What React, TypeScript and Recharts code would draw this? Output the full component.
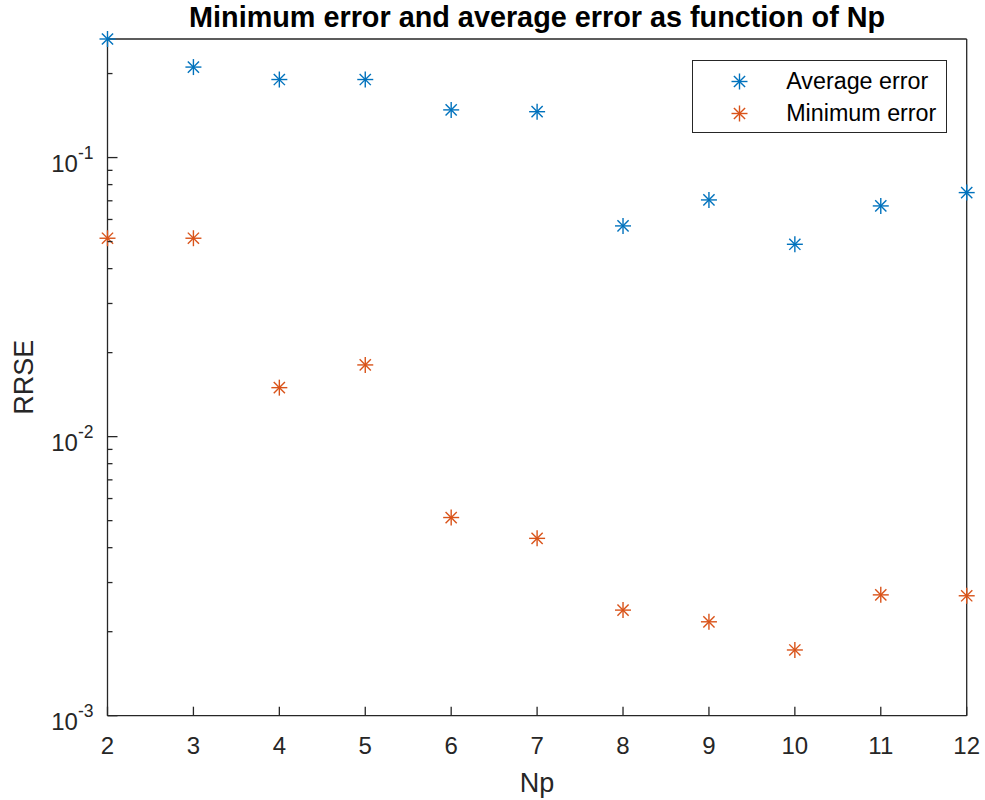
import React from 'react';
import { ScatterChart, Scatter, XAxis, YAxis, Legend } from 'recharts';

// Number of parameters Np
const npValues = [2, 3, 4, 5, 6, 7, 8, 9, 10, 11, 12];
// RRSE averaged over runs
const averageError = [0.266, 0.211, 0.1904, 0.1904, 0.1482, 0.146, 0.0569, 0.0705, 0.0489, 0.0671, 0.0749];
// Best RRSE over runs
const minimumError = [0.0514, 0.0514, 0.01498, 0.01807, 0.00513, 0.00432, 0.00239, 0.00217, 0.00172, 0.00271, 0.00269];

const xTicks = [2, 3, 4, 5, 6, 7, 8, 9, 10, 11, 12];
const majorYTicks = [0.001, 0.01, 0.1];
const majorYLabels = ['-3', '-2', '-1'];
const minorYTicks = [
  0.002, 0.003, 0.004, 0.005, 0.006, 0.007, 0.008, 0.009,
  0.02, 0.03, 0.04, 0.05, 0.06, 0.07, 0.08, 0.09,
  0.2,
];
const yDomain = [0.001, 0.266];

const seriesNames = ['Average error', 'Minimum error'];
const seriesColors = ['#0072BD', '#D95319'];

const W = 985;
const H = 800;
const LEFT = 107.5;
const RIGHT = 18.3;
const TOP = 39;
const BOTTOM = 84.3;
const AXIS = '#262626';
const FONT = '"Liberation Sans", Arial, Helvetica, sans-serif';

const avgData = npValues.map((np, i) => ({ x: np, y: averageError[i] }));
const minData = npValues.map((np, i) => ({ x: np, y: minimumError[i] }));
const yTicks = [...majorYTicks, ...minorYTicks].sort((a, b) => a - b);

const isMajor = (v: number) => majorYTicks.some((m) => Math.abs(m - v) < 1e-12);

function Asterisk({ cx, cy, color }: { cx: number; cy: number; color: string }) {
  const r = 8;
  const d = 5.6;
  return (
    <g stroke={color} strokeWidth={1.4} fill="none">
      <line x1={cx - r} y1={cy} x2={cx + r} y2={cy} />
      <line x1={cx} y1={cy - r} x2={cx} y2={cy + r} />
      <line x1={cx - d} y1={cy - d} x2={cx + d} y2={cy + d} />
      <line x1={cx - d} y1={cy + d} x2={cx + d} y2={cy - d} />
    </g>
  );
}

const makeShape = (color: string) => (props: any) => (
  <Asterisk cx={props.cx} cy={props.cy} color={color} />
);

function LeftTick(props: any) {
  const { x, y, payload } = props;
  const v = payload.value;
  const major = isMajor(v);
  const idx = majorYTicks.findIndex((m) => Math.abs(m - v) < 1e-12);
  return (
    <g>
      <line x1={x} y1={y} x2={x + (major ? 10 : 5)} y2={y} stroke={AXIS} strokeWidth={1.3} />
      {major && (
        <text x={x - 14} y={y + 14} textAnchor="end" fill={AXIS} fontFamily={FONT} fontSize={24}>
          <tspan>10</tspan>
          <tspan dy={-13} fontSize={17.5}>{majorYLabels[idx]}</tspan>
        </text>
      )}
    </g>
  );
}

function RightTick(props: any) {
  const { x, y, payload } = props;
  const major = isMajor(payload.value);
  return <line x1={x} y1={y} x2={x - (major ? 10 : 5)} y2={y} stroke={AXIS} strokeWidth={1.3} />;
}

function BottomTick(props: any) {
  const { x, y, payload } = props;
  return (
    <g>
      <line x1={x} y1={y} x2={x} y2={y - 9} stroke={AXIS} strokeWidth={1.3} />
      <text x={x} y={y + 38} textAnchor="middle" fill={AXIS} fontFamily={FONT} fontSize={24}>
        {payload.value}
      </text>
    </g>
  );
}

function TopTick(props: any) {
  const { x, y } = props;
  return <line x1={x} y1={y} x2={x} y2={y + 9} stroke={AXIS} strokeWidth={1.3} />;
}

const plotCenterX = LEFT + (W - LEFT - RIGHT) / 2;
const plotCenterY = TOP + (H - TOP - BOTTOM) / 2;

function TitleLabel() {
  return (
    <text x={plotCenterX} y={26.7} textAnchor="middle" fill="#000" fontFamily={FONT} fontWeight="bold" fontSize={28.8}>
      Minimum error and average error as function of Np
    </text>
  );
}

function XLabel() {
  return (
    <text x={plotCenterX} y={791.7} textAnchor="middle" fill={AXIS} fontFamily={FONT} fontSize={27}>
      Np
    </text>
  );
}

function YLabel() {
  return (
    <text
      x={32.7}
      y={plotCenterY}
      textAnchor="middle"
      fill={AXIS}
      fontFamily={FONT}
      fontSize={27}
      transform={`rotate(-90, 32.7, ${plotCenterY})`}
    >
      RRSE
    </text>
  );
}

function LegendBox() {
  return (
    <div
      style={{
        width: 255,
        height: 73,
        boxSizing: 'border-box',
        border: `1.3px solid ${AXIS}`,
        background: '#fff',
        position: 'relative',
        fontFamily: FONT,
      }}
    >
      {seriesNames.map((name, i) => (
        <div
          key={name}
          style={{ position: 'absolute', left: 0, top: i === 0 ? 4 : 36, height: 32, width: 253 }}
        >
          <svg width={80} height={32} style={{ position: 'absolute', left: 0, top: 0 }}>
            <Asterisk cx={46.5} cy={16.5} color={seriesColors[i]} />
          </svg>
          <span
            style={{
              position: 'absolute',
              left: 93.5,
              top: 3,
              fontSize: 23.3,
              lineHeight: '27px',
              color: '#000',
              whiteSpace: 'nowrap',
            }}
          >
            {name}
          </span>
        </div>
      ))}
    </div>
  );
}

export default function App() {
  return (
    <div style={{ position: 'absolute', left: 0, top: 0, width: W, height: H, background: '#fff' }}>
      <ScatterChart width={W} height={H} margin={{ top: 0, right: 0, bottom: 0, left: 0 }}>
        <XAxis
          xAxisId="bottom"
          orientation="bottom"
          type="number"
          dataKey="x"
          domain={[2, 12]}
          ticks={xTicks}
          height={BOTTOM}
          tickSize={0}
          tickMargin={0}
          tickLine={false}
          axisLine={{ stroke: AXIS, strokeWidth: 1.3 }}
          tick={BottomTick}
          interval={0}
          label={{ content: XLabel }}
        />
        <XAxis
          xAxisId="top"
          orientation="top"
          type="number"
          dataKey="x"
          domain={[2, 12]}
          ticks={xTicks}
          height={TOP}
          tickSize={0}
          tickMargin={0}
          tickLine={false}
          axisLine={{ stroke: AXIS, strokeWidth: 1.3 }}
          tick={TopTick}
          interval={0}
          label={{ content: TitleLabel }}
        />
        <YAxis
          yAxisId="left"
          orientation="left"
          type="number"
          dataKey="y"
          scale="log"
          domain={yDomain}
          ticks={yTicks}
          width={LEFT}
          tickSize={0}
          tickMargin={0}
          tickLine={false}
          axisLine={{ stroke: AXIS, strokeWidth: 1.3 }}
          tick={LeftTick}
          interval={0}
          label={{ content: YLabel }}
        />
        <YAxis
          yAxisId="right"
          orientation="right"
          type="number"
          dataKey="y"
          scale="log"
          domain={yDomain}
          ticks={yTicks}
          width={RIGHT}
          tickSize={0}
          tickMargin={0}
          tickLine={false}
          axisLine={{ stroke: AXIS, strokeWidth: 1.3 }}
          tick={RightTick}
          interval={0}
        />
        <Scatter
          name={seriesNames[0]}
          data={avgData}
          xAxisId="bottom"
          yAxisId="left"
          fill={seriesColors[0]}
          shape={makeShape(seriesColors[0])}
          isAnimationActive={false}
        />
        <Scatter
          name={seriesNames[1]}
          data={minData}
          xAxisId="bottom"
          yAxisId="left"
          fill={seriesColors[1]}
          shape={makeShape(seriesColors[1])}
          isAnimationActive={false}
        />
        <Legend
          layout="horizontal"
          verticalAlign="middle"
          align="center"
          content={LegendBox}
          wrapperStyle={{ position: 'absolute', left: 691.7, top: 60, width: 255, height: 73 }}
        />
      </ScatterChart>
    </div>
  );
}
